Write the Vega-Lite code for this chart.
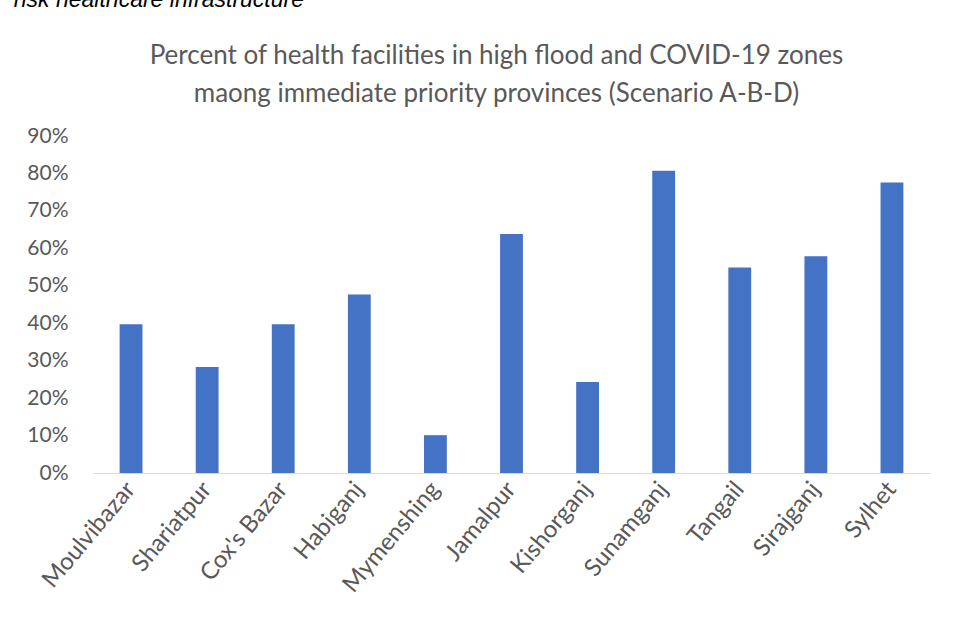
{
  "$schema": "https://vega.github.io/schema/vega-lite/v6.json",
  "background": "white",
  "padding": {"left": 13, "top": -11, "right": 10, "bottom": 10},
  "title": {
    "text": "risk healthcare infrastructure",
    "anchor": "start",
    "font": "Liberation Sans",
    "fontStyle": "italic",
    "fontWeight": "normal",
    "fontSize": 23,
    "color": "black",
    "dx": -13,
    "offset": 31
  },
  "vconcat": [
    {
      "width": 837,
      "height": 337,
      "title": {
        "text": ["Percent of health facilities in high flood and COVID-19 zones", "maong immediate priority provinces (Scenario A-B-D)"],
        "font": "Lato",
        "fontSize": 26,
        "fontWeight": "normal",
        "color": "#595959",
        "lineHeight": 38,
        "anchor": "middle",
        "dx": -15,
        "offset": 18
      },
      "data": {
        "values": [
          {"province": "Moulvibazar", "pct": 0.397},
          {"province": "Shariatpur", "pct": 0.283},
          {"province": "Cox's Bazar", "pct": 0.397},
          {"province": "Habiganj", "pct": 0.477},
          {"province": "Mymenshing", "pct": 0.101},
          {"province": "Jamalpur", "pct": 0.638},
          {"province": "Kishorganj", "pct": 0.243},
          {"province": "Sunamganj", "pct": 0.807},
          {"province": "Tangail", "pct": 0.549},
          {"province": "Sirajganj", "pct": 0.579},
          {"province": "Sylhet", "pct": 0.776}
        ]
      },
      "mark": {"type": "bar", "color": "#4472C4"},
      "encoding": {
        "x": {
          "field": "province",
          "type": "nominal",
          "sort": null,
          "scale": {"paddingInner": 0.7, "paddingOuter": 0.35},
          "axis": {
            "title": null,
            "labelAngle": -50,
            "labelAlign": "right",
            "labelBaseline": "middle",
            "labelFont": "Lato",
            "labelFontSize": 24,
            "labelColor": "#595959",
            "ticks": false,
            "domainColor": "#D9D9D9",
            "domainWidth": 1,
            "labelPadding": 12
          }
        },
        "y": {
          "field": "pct",
          "type": "quantitative",
          "scale": {"domain": [0, 0.9]},
          "axis": {
            "title": null,
            "format": ".0%",
            "values": [0, 0.1, 0.2, 0.3, 0.4, 0.5, 0.6, 0.7, 0.8, 0.9],
            "labelFont": "Lato",
            "labelFontSize": 21,
            "labelColor": "#595959",
            "ticks": false,
            "domain": false,
            "grid": false,
            "labelPadding": 25
          }
        }
      }
    }
  ],
  "config": {"view": {"stroke": null}}
}
